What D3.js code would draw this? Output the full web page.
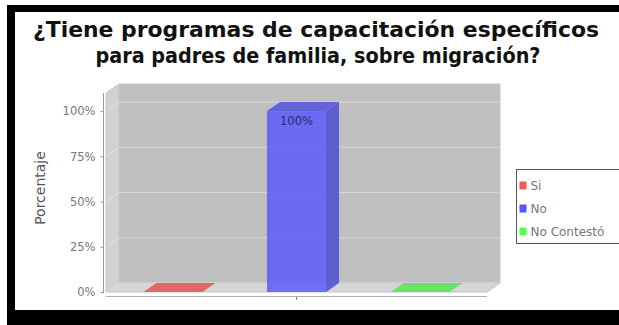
<!DOCTYPE html>
<html><head><meta charset="utf-8">
<script src="https://cdn.jsdelivr.net/npm/d3@7"></script>
<style>html,body{margin:0;padding:0;background:#fff;overflow:hidden}</style>
</head><body>
<svg id="c" width="619" height="325"></svg>
<script>
const titleLines = ["¿Tiene programas de capacitación específicos", "para padres de familia, sobre migración?"];
const categories = ["Si", "No", "No Contestó"];
const values = [0, 100, 0];
const colors = ["#ff5555", "#5555ff", "#55ff55"];
const yTicks = [0, 25, 50, 75, 100];
const tickLabels = ["0%", "25%", "50%", "75%", "100%"];
const yTitle = "Porcentaje";
const barLabels = ["", "100%", ""];

const svg = d3.select("#c");
const dx = 13, dy = 9;
const L = 106, R = 487, B = 292, T = 93;
const y = d3.scaleLinear().domain([0, 110]).range([B, T]);
const x = d3.scaleBand().domain(categories).range([L, R]).paddingInner(0.522).paddingOuter(0.303);

// walls
const g = svg.append("g");
g.append("polygon").attr("points", [[L,T],[L+dx,T-dy],[L+dx,B-dy],[L,B]].join(" ")).attr("fill","#d2d2d2").attr("stroke","#c4c4c4");
g.append("polygon").attr("points", [[L,B],[L+dx,B-dy],[R+dx,B-dy],[R,B]].join(" ")).attr("fill","#d6d6d6").attr("stroke","#c4c4c4");
g.append("rect").attr("x", L+dx).attr("y", T-dy).attr("width", R-L).attr("height", B-T).attr("fill","#c0c0c0").attr("stroke","#c8c8c8");
// gridlines
yTicks.forEach(t => {
  g.append("line").attr("x1", L+dx).attr("x2", R+dx).attr("y1", y(t)-dy).attr("y2", y(t)-dy).attr("stroke","#d8d8d8").attr("stroke-width",1);
  g.append("line").attr("x1", L).attr("x2", L+dx).attr("y1", y(t)).attr("y2", y(t)-dy).attr("stroke","#e0e0e0").attr("stroke-width",1);
});

// bars
categories.forEach((c, i) => {
  const x0 = x(c), w = x.bandwidth(), yv = y(values[i]), y0 = y(0);
  const col = d3.color(colors[i]);
  const bg = svg.append("g").attr("opacity", 0.8);
  if (y0 - yv > 0) {
    bg.append("rect").attr("x", x0).attr("y", yv).attr("width", w).attr("height", y0 - yv).attr("fill", col);
    bg.append("polygon").attr("points", [[x0+w,yv],[x0+w+dx,yv-dy],[x0+w+dx,y0-dy],[x0+w,y0]].join(" ")).attr("fill", col.darker(0.6));
  }
  bg.append("polygon").attr("points", [[x0,yv],[x0+dx,yv-dy],[x0+w+dx,yv-dy],[x0+w,yv]].join(" ")).attr("fill", col.darker(0.3));
  if (barLabels[i]) {
    svg.append("text").attr("x", x0 + w/2).attr("y", yv + 14).attr("text-anchor","middle")
      .attr("font-family","DejaVu Sans, Verdana, sans-serif").attr("font-size", 11.5).attr("fill","#2a2a70").text(barLabels[i]);
  }
});

// axes
svg.append("line").attr("x1", 103.5).attr("x2", 103.5).attr("y1", T).attr("y2", B+1).attr("stroke","#999");
svg.append("line").attr("x1", L).attr("x2", R).attr("y1", 296.5).attr("y2", 296.5).attr("stroke","#b0b0b0");
svg.append("line").attr("x1", x("No")+x.bandwidth()/2).attr("x2", x("No")+x.bandwidth()/2).attr("y1", 297).attr("y2", 300).attr("stroke","#888");
const ax = d3.axisLeft(y).tickValues(yTicks).tickSize(3).tickFormat((d, i) => tickLabels[i]);
const axg = svg.append("g").attr("transform", "translate(103.5,0)").call(ax);
axg.select(".domain").remove();
axg.selectAll("line").attr("stroke","#999");
axg.selectAll("text").attr("font-family","DejaVu Sans, Verdana, sans-serif").attr("font-size", 11.5).attr("fill","#777").attr("dx", -2);

// y title
svg.append("text").attr("transform","translate(45,188) rotate(-90)").attr("text-anchor","middle")
  .attr("font-family","DejaVu Sans, Verdana, sans-serif").attr("font-size", 14).attr("fill","#555").text(yTitle);

// title
const titleX = [316, 318], titleW = [566, 445];
titleLines.forEach((t, i) => {
  svg.append("text").attr("x", titleX[i]).attr("y", 37 + i*26).attr("text-anchor","middle")
    .attr("font-family","DejaVu Sans, Verdana, sans-serif").attr("font-weight","bold").attr("font-size", 21)
    .attr("textLength", titleW[i]).attr("lengthAdjust","spacingAndGlyphs")
    .attr("fill","#111").text(t);
});

// legend
const lg = svg.append("g").attr("transform","translate(516.5,169.5)");
lg.append("rect").attr("width", 130).attr("height", 74).attr("fill","#fff").attr("stroke","#555");
categories.forEach((c, i) => {
  lg.append("rect").attr("x", 3).attr("y", 12 + i*23).attr("width", 7).attr("height", 8).attr("fill", colors[i]);
  lg.append("text").attr("x", 14).attr("y", 20 + i*23).attr("font-family","DejaVu Sans, Verdana, sans-serif").attr("font-size", 12).attr("fill","#777").text(c);
});

// black frame
svg.append("rect").attr("x", 7).attr("y", 5).attr("width", 612).attr("height", 7).attr("fill","#000");
svg.append("rect").attr("x", 7).attr("y", 5).attr("width", 8).attr("height", 320).attr("fill","#000");
svg.append("rect").attr("x", 7).attr("y", 310).attr("width", 612).attr("height", 15).attr("fill","#000");
</script>
</body></html>
